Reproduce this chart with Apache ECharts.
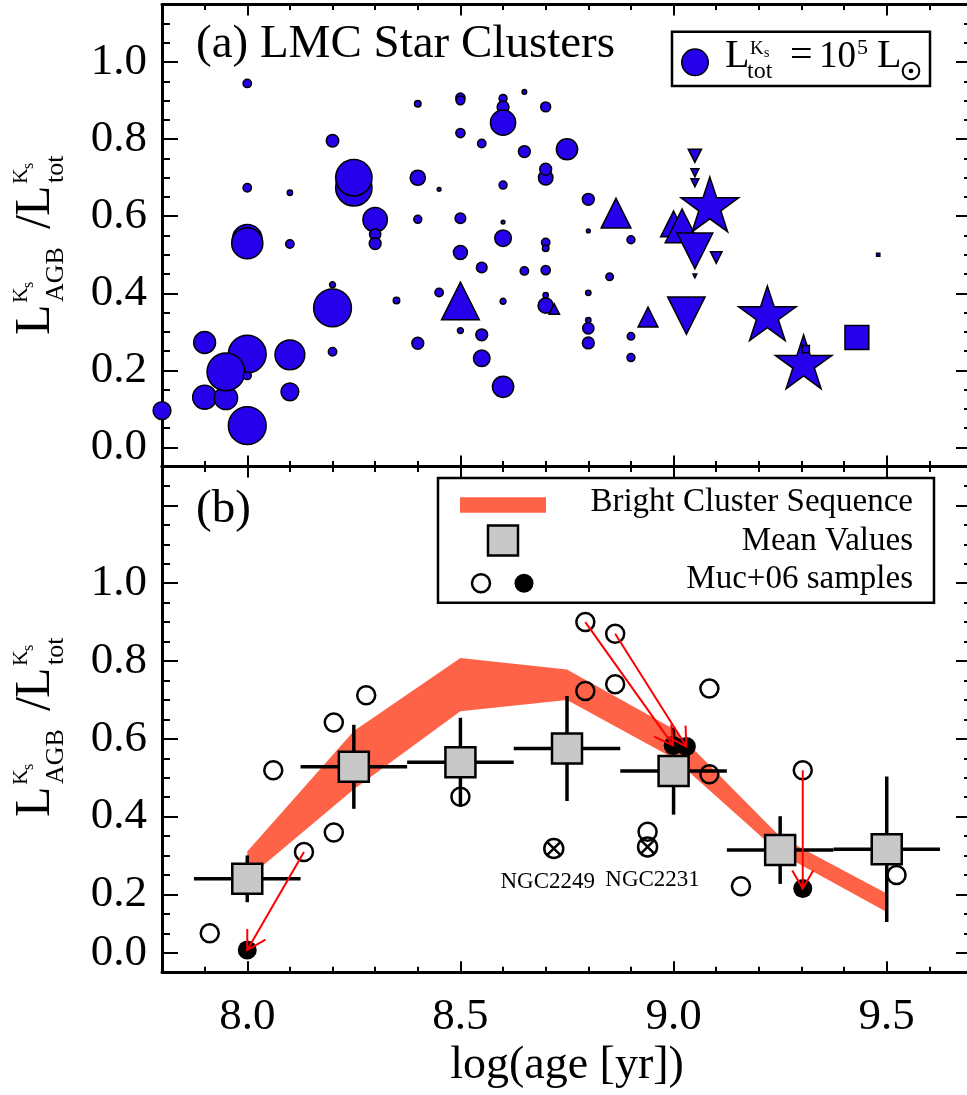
<!DOCTYPE html>
<html>
<head>
<meta charset="utf-8">
<script src="https://cdn.jsdelivr.net/npm/echarts@6/dist/echarts.min.js"></script>
<style>
  html, body { margin: 0; padding: 0; background: #fff; }
  #chart { width: 967px; height: 1095px; }
</style>
</head>
<body>
<div id="chart"></div>
<script>
// ---------- panel (a): LMC star clusters ----------
// each entry: [log(age/yr), L_AGB/L_tot (Ks), L_tot (Ks) in units of 1e5 Lsun]
const clustersCircle = [
  [7.80, 0.095, 0.45], [7.90, 0.272, 0.68], [7.90, 0.130, 0.81], [7.95, 0.128, 0.77],
  [8.00, 0.056, 2.03], [8.00, 0.242, 2.03], [7.95, 0.196, 2.03], [8.00, 0.186, 0.09],
  [8.10, 0.240, 1.26], [8.10, 0.144, 0.45], [8.00, 0.540, 1.26], [8.00, 0.530, 1.38],
  [8.10, 0.528, 0.10], [8.20, 0.362, 2.03], [8.20, 0.248, 0.10], [8.00, 0.945, 0.10],
  [8.00, 0.674, 0.10], [8.10, 0.661, 0.04], [8.20, 0.796, 0.22], [8.40, 0.892, 0.06],
  [8.50, 0.908, 0.12], [8.50, 0.901, 0.11], [8.60, 0.906, 0.09], [8.60, 0.884, 0.20],
  [8.60, 0.843, 0.90], [8.65, 0.923, 0.03], [8.70, 0.884, 0.14], [8.50, 0.816, 0.12],
  [8.55, 0.789, 0.10], [8.65, 0.768, 0.20], [8.75, 0.774, 0.64], [8.25, 0.674, 1.88],
  [8.25, 0.700, 1.88], [8.30, 0.591, 0.85], [8.30, 0.553, 0.18], [8.30, 0.529, 0.20],
  [8.40, 0.700, 0.33], [8.45, 0.670, 0.02], [8.40, 0.592, 0.09], [8.50, 0.595, 0.16],
  [8.60, 0.681, 0.09], [8.60, 0.585, 0.02], [8.70, 0.700, 0.30], [8.70, 0.722, 0.20],
  [8.80, 0.644, 0.20], [8.80, 0.562, 0.02], [8.60, 0.543, 0.39], [8.70, 0.532, 0.10],
  [8.70, 0.517, 0.06], [8.90, 0.539, 0.09], [8.50, 0.506, 0.28], [8.55, 0.467, 0.16],
  [8.65, 0.458, 0.10], [8.70, 0.460, 0.12], [8.85, 0.443, 0.08], [8.20, 0.422, 0.05],
  [8.35, 0.381, 0.06], [8.45, 0.402, 0.10], [8.60, 0.379, 0.05], [8.70, 0.395, 0.04],
  [8.70, 0.368, 0.33], [8.80, 0.401, 0.04], [8.80, 0.330, 0.04], [8.80, 0.309, 0.18],
  [8.80, 0.271, 0.20], [8.90, 0.288, 0.08], [8.90, 0.233, 0.09], [8.50, 0.303, 0.05],
  [8.55, 0.292, 0.20], [8.55, 0.231, 0.39], [8.60, 0.157, 0.64], [8.40, 0.270, 0.20]
];
const clustersTriUp = [
  [8.50, 0.380, 2.03], [8.72, 0.359, 0.16], [8.865, 0.608, 1.26],
  [8.94, 0.338, 0.56], [9.00, 0.580, 0.95], [9.02, 0.575, 1.62]
];
const clustersTriDown = [
  [9.05, 0.757, 0.25], [9.05, 0.713, 0.09], [9.05, 0.687, 0.09], [9.05, 0.510, 1.82],
  [9.05, 0.445, 0.02], [9.10, 0.493, 0.19], [9.03, 0.342, 1.99]
];
const clustersStar = [
  [9.085, 0.631, 4.72], [9.22, 0.348, 4.72], [9.305, 0.222, 4.56]
];
const clustersSquare = [
  [9.31, 0.255, 0.075], [9.43, 0.285, 0.81], [9.48, 0.500, 0.015]
];

// ---------- panel (b): sequence, mean values, Muc+06 samples ----------
const bandAge  = [8.00, 8.25, 8.50, 8.75, 9.00, 9.25, 9.50];
const bandHigh = [0.310, 0.620, 0.808, 0.778, 0.625, 0.348, 0.202];
const bandLow  = [0.240, 0.470, 0.671, 0.700, 0.550, 0.305, 0.155];

const meanAge      = [8.00, 8.25, 8.50, 8.75, 9.00, 9.25, 9.50];
const meanRatio    = [0.240, 0.528, 0.540, 0.575, 0.517, 0.314, 0.316];
const meanRatioErr = [0.060, 0.108, 0.114, 0.135, 0.112, 0.087, 0.187];
const meanAgeHalfBin = 0.125;

const mucOpen = [
  [7.912, 0.100], [8.061, 0.519], [8.133, 0.309], [8.203, 0.642], [8.203, 0.359],
  [8.279, 0.712], [8.500, 0.451], [8.793, 0.900], [8.863, 0.870], [8.863, 0.740],
  [8.793, 0.723], [8.939, 0.361], [9.084, 0.729], [9.084, 0.509], [9.158, 0.221],
  [9.303, 0.519], [9.523, 0.250]
];
const mucFilled = [[8.000, 0.057], [8.999, 0.583], [9.030, 0.580], [9.303, 0.215]];
const mucCrossed = [[8.719, 0.318], [8.939, 0.322]];
const crossedNames = ['NGC2249', 'NGC2231'];
// arrows: [from age, from ratio, to age, to ratio]
const mucShifts = [
  [8.133, 0.309, 8.000, 0.057],
  [8.793, 0.900, 8.999, 0.583],
  [8.863, 0.870, 9.030, 0.580],
  [9.303, 0.519, 9.303, 0.215]
];

// ---------- axes ----------
const X_MIN = 7.8, X_MAX = 9.7;
const xMajorTicks = [8.0, 8.5, 9.0, 9.5];
const xMinorStep = 0.1;
const yRangeA = [-0.05, 1.15];
const yMajorTicksA = [0.0, 0.2, 0.4, 0.6, 0.8, 1.0];
const yRangeB = [0.0, 1.3];
const yMajorTicksB = [0.05, 0.2, 0.4, 0.6, 0.8, 1.0, 1.2];
const yLabelsB = [0.05, 0.2, 0.4, 0.6, 0.8, 1.0];
const yMinorStep = 0.05;

const BLUE = '#2600ea';
const BAND = '#ff6347';
const SERIF = '"Liberation Serif", "Times New Roman", serif';
const LEGEND_LUM = 1.0;      // 1e5 Lsun reference marker
const LEGEND_DIAM = 26.5;    // px diameter of the reference marker

function lumToSize(l) { return LEGEND_DIAM * Math.sqrt(l / LEGEND_LUM); }

function stepTicks(lo, hi, step, skip) {
  const out = [];
  const n0 = Math.round(lo / step), n1 = Math.round(hi / step);
  for (let k = n0; k <= n1; k++) {
    const v = +(k * step).toFixed(4);
    if (!skip.some(s => Math.abs(s - v) < 1e-6)) out.push(v);
  }
  return out;
}
const xMinorTicks = stepTicks(7.9, 9.6, xMinorStep, xMajorTicks);
const yMinorTicksA = stepTicks(0.05, 1.10, yMinorStep, yMajorTicksA);
const yMinorTicksB = stepTicks(0.10, 1.25, yMinorStep, yMajorTicksB);

const tickFont = { fontFamily: SERIF, fontSize: 45, color: '#000' };

function xAxes(grid, withLabels) {
  const out = [];
  ['bottom', 'top'].forEach(pos => {
    const labels = withLabels && pos === 'bottom';
    out.push({
      type: 'value', gridIndex: grid, position: pos, min: X_MIN, max: X_MAX,
      axisLine: { show: true, onZero: false, lineStyle: { color: '#000', width: 3 } },
      axisTick: { show: true, inside: true, length: 11, customValues: xMajorTicks,
                  lineStyle: { color: '#000', width: 2 } },
      axisLabel: Object.assign({ show: labels, customValues: xMajorTicks, margin: 22,
                  formatter: v => v.toFixed(1) }, tickFont),
      splitLine: { show: false },
      name: labels ? 'log(age [yr])' : '',
      nameLocation: 'middle', nameGap: 71,
      nameTextStyle: { fontFamily: SERIF, fontSize: 46, color: '#000' }
    });
    out.push({
      type: 'value', gridIndex: grid, position: pos, min: X_MIN, max: X_MAX,
      axisLine: { show: false, onZero: false },
      axisTick: { show: true, inside: true, length: 5.5, customValues: xMinorTicks,
                  lineStyle: { color: '#000', width: 2 } },
      axisLabel: { show: false }, splitLine: { show: false }
    });
  });
  return out;
}

function yAxes(grid, range, majors, minors, labelValues, fmt) {
  const out = [];
  ['left', 'right'].forEach(pos => {
    const labels = pos === 'left';
    out.push({
      type: 'value', gridIndex: grid, position: pos, min: range[0], max: range[1],
      axisLine: { show: true, onZero: false, lineStyle: { color: '#000', width: 3 } },
      axisTick: { show: true, inside: true, length: 16, customValues: majors,
                  lineStyle: { color: '#000', width: 2 } },
      axisLabel: Object.assign({ show: labels, customValues: labelValues, margin: 15,
                  formatter: fmt }, tickFont),
      splitLine: { show: false }
    });
    out.push({
      type: 'value', gridIndex: grid, position: pos, min: range[0], max: range[1],
      axisLine: { show: false, onZero: false },
      axisTick: { show: true, inside: true, length: 8, customValues: minors,
                  lineStyle: { color: '#000', width: 2 } },
      axisLabel: { show: false }, splitLine: { show: false }
    });
  });
  return out;
}

// labels read as truncated to one decimal
const fmtTrunc = v => (Math.floor(v * 10 + 1e-6) / 10).toFixed(1);

// ---------- symbols ----------
const STAR = 'path://M50,0L61.23,34.55L97.55,34.55L68.17,55.9L79.39,90.45L50,69.1L20.61,90.45L31.83,55.9L2.45,34.55L38.77,34.55Z';
const CROSSED = 'path://M0,10A10,10 0 1,0 20,10A10,10 0 1,0 0,10ZM2.93,2.93L17.07,17.07M17.07,2.93L2.93,17.07';

const markerStyle = { color: BLUE, borderColor: '#000', borderWidth: 1.5, opacity: 1 };
function clusterSeries(data, symbol, extra) {
  return Object.assign({
    type: 'scatter', xAxisIndex: 0, yAxisIndex: 0, data: data, symbol: symbol,
    symbolSize: v => lumToSize(v[2]), symbolKeepAspect: true,
    itemStyle: markerStyle, silent: true
  }, extra || {});
}

// ---------- text helpers ----------
// place text by its alphabetic baseline
function txt(text, x, baseline, size, opts) {
  opts = opts || {};
  return {
    type: 'text', x: x, y: baseline - 0.3375 * size, silent: true, z: 100,
    style: { text: text, fill: '#000', fontFamily: SERIF, fontSize: size,
             align: opts.align || 'left', verticalAlign: 'middle' }
  };
}
function rtxt(text, x, baseline, size) {  // for rotated groups (local coords)
  return { type: 'text', x: x, y: baseline - 0.3375 * size, silent: true,
    style: { text: text, fill: '#000', fontFamily: SERIF, fontSize: size,
             align: 'left', verticalAlign: 'middle' } };
}
function yTitle(gx, gy) {
  return {
    type: 'group', x: gx, y: gy, rotation: Math.PI / 2, silent: true, z: 100,
    children: [
      rtxt('L', 0, 0, 50),
      rtxt('K', 32, -24, 22), rtxt('s', 47, -19, 16),
      rtxt('AGB', 33, 12, 26),
      rtxt('/', 106, 0, 50),
      rtxt('L', 119, 0, 50),
      rtxt('K', 151, -24, 22), rtxt('s', 166, -19, 16),
      rtxt('tot', 152, 12, 26)
    ]
  };
}

const graphics = [
  // panel titles
  txt('(a) LMC Star Clusters', 196, 61, 47),
  txt('(b)', 196, 526, 47),
  // axis titles
  yTitle(53, 335),
  yTitle(53, 817),
  // legend of panel (a)
  { type: 'rect', shape: { x: 672, y: 31.7, width: 258, height: 54.3 }, z: 90,
    style: { fill: '#fff', stroke: '#000', lineWidth: 2.5 } },
  { type: 'circle', shape: { cx: 695, cy: 62.3, r: LEGEND_DIAM / 2 }, z: 91,
    style: { fill: BLUE, stroke: '#000', lineWidth: 1.5 } },
  txt('L', 725, 70, 40),
  txt('K', 750, 55, 19), txt('s', 764, 58, 14),
  txt('tot', 747, 80, 24),
  txt('=', 790, 70, 40),
  txt('10', 819, 70, 37),
  txt('5', 857, 56, 22),
  txt('L', 877, 70, 40),
  { type: 'circle', shape: { cx: 911, cy: 71, r: 8.3 }, z: 100,
    style: { fill: 'none', stroke: '#000', lineWidth: 2 } },
  { type: 'circle', shape: { cx: 911, cy: 71, r: 2.3 }, z: 100,
    style: { fill: '#000' } },
  // legend of panel (b)
  { type: 'rect', shape: { x: 438, y: 478, width: 496, height: 124.7 }, z: 90,
    style: { fill: '#fff', stroke: '#000', lineWidth: 2.5 } },
  { type: 'rect', shape: { x: 460, y: 497.3, width: 86, height: 15.4 }, z: 91,
    style: { fill: BAND } },
  { type: 'rect', shape: { x: 488, y: 525.5, width: 30, height: 30 }, z: 91,
    style: { fill: '#c8c8c8', stroke: '#000', lineWidth: 2.5 } },
  { type: 'circle', shape: { cx: 481, cy: 583.3, r: 9 }, z: 91,
    style: { fill: 'none', stroke: '#000', lineWidth: 2.5 } },
  { type: 'circle', shape: { cx: 524, cy: 583.3, r: 9.5 }, z: 91,
    style: { fill: '#000' } },
  txt('Bright Cluster Sequence', 913, 513, 33, { align: 'right' }),
  txt('Mean Values', 913, 552, 33, { align: 'right' }),
  txt('Muc+06 samples', 913, 590, 33, { align: 'right' })
];

const option = {
  animation: false,
  backgroundColor: '#fff',
  textStyle: { fontFamily: SERIF },
  grid: [
    { left: 162, top: 4.5, width: 810, height: 462, outerBoundsMode: 'none', containLabel: false },
    { left: 162, top: 466.5, width: 810, height: 505.7, outerBoundsMode: 'none', containLabel: false }
  ],
  xAxis: xAxes(0, false).concat(xAxes(1, true)),
  yAxis: yAxes(0, yRangeA, yMajorTicksA, yMinorTicksA, yMajorTicksA, v => v.toFixed(1))
    .concat(yAxes(1, yRangeB, yMajorTicksB, yMinorTicksB, yLabelsB, fmtTrunc)),
  graphic: graphics,
  series: [
    // panel (a)
    clusterSeries(clustersCircle, 'circle'),
    clusterSeries(clustersTriUp, 'triangle'),
    clusterSeries(clustersTriDown, 'triangle', { symbolRotate: 180 }),
    clusterSeries(clustersStar, STAR),
    clusterSeries(clustersSquare, 'rect'),

    // panel (b): bright cluster sequence band
    {
      type: 'custom', xAxisIndex: 4, yAxisIndex: 4, data: [[bandAge[0], bandLow[0]]],
      silent: true, z: 1,
      renderItem: function (params, api) {
        const pts = [];
        for (let i = 0; i < bandAge.length; i++) pts.push(api.coord([bandAge[i], bandHigh[i]]));
        for (let i = bandAge.length - 1; i >= 0; i--) pts.push(api.coord([bandAge[i], bandLow[i]]));
        return { type: 'polygon', shape: { points: pts }, style: { fill: BAND } };
      }
    },
    // error bars of mean values
    {
      type: 'custom', xAxisIndex: 4, yAxisIndex: 4, silent: true, z: 2,
      data: meanAge.map((a, i) => [a, meanRatio[i], meanRatioErr[i]]),
      encode: { x: 0, y: 1 },
      renderItem: function (params, api) {
        const x = api.value(0), y = api.value(1), e = api.value(2);
        const l = api.coord([x - meanAgeHalfBin, y]), r = api.coord([x + meanAgeHalfBin, y]);
        const t = api.coord([x, y + e]), b = api.coord([x, y - e]);
        const st = { stroke: '#000', lineWidth: 3.5 };
        return { type: 'group', children: [
          { type: 'line', shape: { x1: l[0], y1: l[1], x2: r[0], y2: r[1] }, style: st },
          { type: 'line', shape: { x1: t[0], y1: t[1], x2: b[0], y2: b[1] }, style: st }
        ] };
      }
    },
    // mean values
    {
      type: 'scatter', xAxisIndex: 4, yAxisIndex: 4, silent: true, z: 3,
      data: meanAge.map((a, i) => [a, meanRatio[i]]),
      symbol: 'rect', symbolSize: 30,
      itemStyle: { color: '#c8c8c8', borderColor: '#000', borderWidth: 2.5, opacity: 1 }
    },
    // Muc+06 samples
    {
      type: 'scatter', xAxisIndex: 4, yAxisIndex: 4, silent: true, z: 4,
      data: mucOpen, symbol: 'circle', symbolSize: 18,
      itemStyle: { color: 'rgba(0,0,0,0)', borderColor: '#000', borderWidth: 2.5, opacity: 1 }
    },
    {
      type: 'scatter', xAxisIndex: 4, yAxisIndex: 4, silent: true, z: 4,
      data: mucFilled, symbol: 'circle', symbolSize: 19,
      itemStyle: { color: '#000', opacity: 1 }
    },
    {
      type: 'scatter', xAxisIndex: 4, yAxisIndex: 4, silent: true, z: 4,
      data: mucCrossed.map((p, i) => ({
        value: p, name: crossedNames[i],
        label: { offset: [i === 0 ? -6 : 5, 0] }
      })),
      symbol: CROSSED, symbolSize: 19,
      itemStyle: { color: 'rgba(0,0,0,0)', borderColor: '#000', borderWidth: 2.5, opacity: 1 },
      label: { show: true, position: 'bottom', distance: 11, formatter: '{b}',
               fontFamily: SERIF, fontSize: 23, color: '#000' }
    },
    // shifts of the Muc+06 samples
    {
      type: 'custom', xAxisIndex: 4, yAxisIndex: 4, silent: true, z: 5,
      data: mucShifts, encode: { x: [0, 2], y: [1, 3] },
      renderItem: function (params, api) {
        const p0 = api.coord([api.value(0), api.value(1)]);
        const p1 = api.coord([api.value(2), api.value(3)]);
        const ang = Math.atan2(p0[1] - p1[1], p0[0] - p1[0]);
        const len = 21, half = Math.PI / 6;
        const h1 = [p1[0] + len * Math.cos(ang + half), p1[1] + len * Math.sin(ang + half)];
        const h2 = [p1[0] + len * Math.cos(ang - half), p1[1] + len * Math.sin(ang - half)];
        const st = { stroke: '#ff0000', lineWidth: 2, fill: null };
        return { type: 'group', children: [
          { type: 'line', shape: { x1: p0[0], y1: p0[1], x2: p1[0], y2: p1[1] }, style: st },
          { type: 'polyline', shape: { points: [h1, p1, h2] }, style: st }
        ] };
      }
    }
  ]
};

const chart = echarts.init(document.getElementById('chart'), null, { renderer: 'canvas' });
chart.setOption(option);
</script>
</body>
</html>
